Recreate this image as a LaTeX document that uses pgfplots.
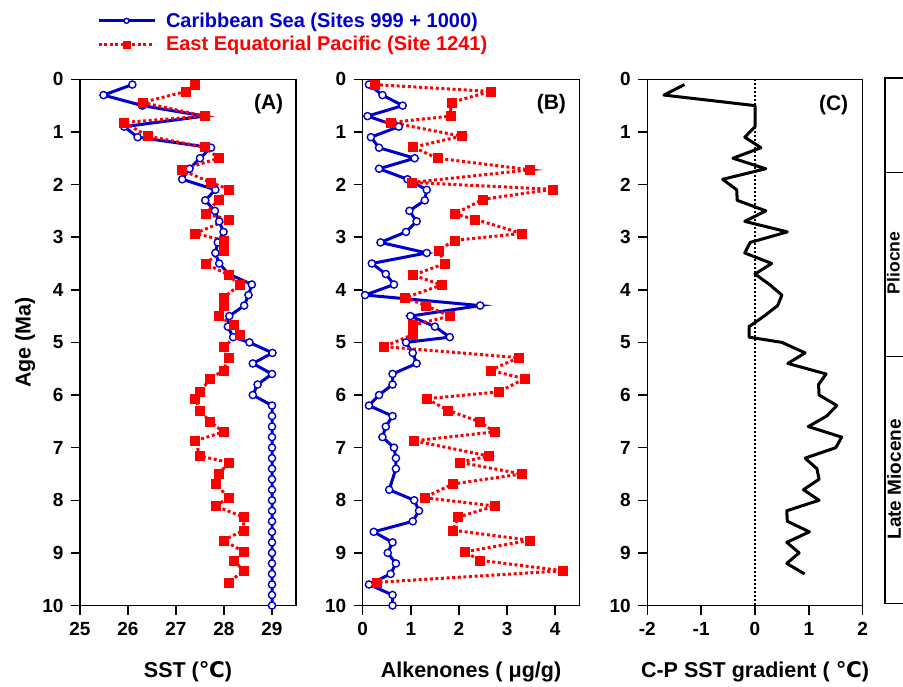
\documentclass[border=0pt]{standalone}
\usepackage{fontspec}
\setmainfont{Liberation Sans}
\newfontfamily\dejavu{DejaVu Sans}
\usepackage{pgfplots}
\usepackage{pgfplotstable}
\pgfplotsset{compat=1.18}

\definecolor{cblue}{RGB}{0,0,204}
\definecolor{cred}{RGB}{255,0,0}

% Caribbean Sea (Sites 999 + 1000): age, SST, alkenones
\pgfplotstableread{
age sst alk
0.1 26.09 0.13
0.3 25.49 0.41
0.5 26.30 0.83
0.7 27.59 0.10
0.9 25.92 0.75
1.1 26.20 0.17
1.3 27.73 0.34
1.5 27.50 1.08
1.7 27.28 0.34
1.9 27.13 0.93
2.1 27.82 1.33
2.3 27.61 1.29
2.5 27.81 0.97
2.7 27.90 1.12
2.9 27.99 0.90
3.1 27.87 0.37
3.3 27.82 1.33
3.5 27.90 0.19
3.7 28.10 0.48
3.9 28.58 0.65
4.1 28.51 0.05
4.3 28.42 2.44
4.5 28.11 0.99
4.7 28.08 1.50
4.9 28.19 1.81
5.0 28.53 0.90
5.2 29.01 1.04
5.4 28.60 1.12
5.6 29.00 0.62
5.8 28.70 0.62
6.0 28.60 0.34
6.2 29.00 0.13
6.4 29.00 0.62
6.6 29.00 0.48
6.8 29.00 0.41
7.0 29.00 0.65
7.2 29.00 0.69
7.4 29.00 0.69
7.6 29.00 nan
7.8 29.00 0.55
8.0 29.00 1.07
8.2 29.00 1.17
8.4 29.00 1.04
8.6 29.00 0.23
8.8 29.00 0.62
9.0 29.00 0.52
9.2 29.00 0.69
9.4 29.00 0.58
9.6 29.00 0.13
9.8 29.00 0.62
10.0 29.00 0.62
}\carib

% East Equatorial Pacific (Site 1241)
\pgfplotstableread{
age sst alk
0.10 27.40 0.24
0.23 27.21 2.65
0.44 26.30 1.84
0.70 27.60 1.82
0.82 25.92 0.58
1.08 26.41 2.05
1.29 27.60 1.05
1.50 27.89 1.55
1.72 27.11 3.48
1.96 27.72 1.02
2.09 28.10 3.95
2.28 27.89 2.50
2.56 27.61 1.91
2.66 28.10 2.33
2.93 27.40 3.31
3.06 27.99 1.91
3.25 27.99 1.57
3.50 27.61 1.71
3.72 28.10 1.05
3.91 28.32 1.64
4.15 27.99 0.88
4.30 27.99 1.31
4.50 27.89 1.81
4.67 28.20 1.05
4.85 28.32 1.05
5.08 27.99 0.44
5.29 28.10 3.24
5.53 27.99 2.65
5.69 27.71 3.36
5.94 27.50 2.83
6.07 27.40 1.33
6.29 27.50 1.77
6.51 27.71 2.43
6.70 27.99 2.74
6.87 27.40 1.07
7.16 27.50 2.62
7.28 28.10 2.02
7.50 27.89 3.30
7.69 27.82 1.88
7.95 28.10 1.28
8.11 27.82 2.74
8.32 28.41 1.98
8.57 28.41 1.88
8.76 27.99 3.48
8.98 28.41 2.12
9.14 28.20 2.43
9.34 28.41 4.16
9.56 28.10 0.29
}\pacif

% C-P SST gradient
\pgfplotstableread{
age grad
0.1 -1.31
0.3 -1.69
0.5 0.00
0.7 0.00
0.9 0.00
1.1 -0.19
1.3 0.11
1.5 -0.41
1.7 0.20
1.9 -0.60
2.1 -0.34
2.3 -0.33
2.5 0.20
2.7 -0.19
2.9 0.60
3.1 -0.09
3.3 -0.19
3.5 0.31
3.7 0.00
3.9 0.27
4.1 0.50
4.3 0.42
4.5 0.17
4.7 -0.11
4.9 -0.11
5.0 0.50
5.2 0.93
5.4 0.61
5.6 1.32
5.8 1.18
6.0 1.19
6.2 1.52
6.4 1.33
6.6 0.99
6.8 1.61
7.0 1.50
7.2 0.93
7.4 1.15
7.6 1.19
7.8 0.90
8.0 1.19
8.2 0.59
8.4 0.60
8.6 1.01
8.8 0.59
9.0 0.82
9.2 0.59
9.4 0.92
}\grad

\pgfplotsset{
  panel/.style={
    scale only axis, height=526.2pt,
    ymin=0, ymax=10, y dir=reverse, ytick={0,1,...,10},
    axis line style={line width=1.5pt},
    every tick/.style={line width=1.5pt, black},
    tick align=outside, major tick length=9pt, tick pos=left,
    ticklabel style={font=\bfseries\fontsize{19}{19}\selectfont},
    yticklabel style={xshift=-4pt},
    xticklabel style={yshift=-4pt},
    /pgf/number format/assume math mode=true,
    label style={font=\bfseries\fontsize{21.5}{22}\selectfont},
    xlabel style={at={(axis description cs:0.5,0)}, anchor=center, yshift=-66pt},
  },
  carib/.style={color=cblue, line width=3pt, mark=*, mark size=3.6pt,
    mark options={fill=white, draw=cblue, line width=1.4pt, solid}},
  pacif/.style={color=cred, line width=3pt, dash pattern=on 3pt off 2.6pt,
    mark=square*, mark size=4.5pt, mark options={fill=cred, draw=cred, line width=0.5pt, solid}},
  legcarib/.style={legend image code/.code={\draw[mark repeat=2, mark phase=2, ##1, mark size=2.5pt]
      plot coordinates {(0pt,0pt) (28pt,0pt) (56pt,0pt)};}},
  legpacif/.style={legend image code/.code={\draw[mark repeat=2, mark phase=2, ##1, mark size=3.6pt]
      plot coordinates {(0pt,0pt) (28pt,0pt) (56pt,0pt)};}},
}

\begin{document}
\begin{tikzpicture}

% (A) SST
\begin{axis}[panel, at={(80pt,80.5pt)}, anchor=south west, width=216pt,
    xmin=25, xmax=29.5, xtick={25,...,29},
    xlabel={SST ({\dejavu ℃})},
    ylabel={Age (Ma)},
    ylabel style={at={(axis description cs:-0.2546,0.5)}, anchor=center},
    legend cell align=left,
    legend style={draw=none, fill=none, inner sep=0pt, outer sep=0pt,
      at={(axis description cs:0.0787,1.1268)}, anchor=north west,
      nodes={inner sep=0pt, text depth=0.21em},
      row sep=7pt, column sep=10pt,
      font=\bfseries\fontsize{20}{20}\selectfont},
  ]
  \addplot[carib, legcarib] table[x=sst, y=age] {\carib};
  \addlegendentry{\textcolor{cblue}{Caribbean Sea (Sites 999 + 1000)}}
  \addplot[pacif, legpacif] table[x=sst, y=age] {\pacif};
  \addlegendentry{\textcolor{cred}{East Equatorial Pacific (Site 1241)}}
  \node[font=\bfseries\fontsize{21}{21}\selectfont] at (axis cs:28.93,0.47) {(A)};
\end{axis}

% (B) Alkenones
\begin{axis}[panel, at={(362.7pt,80.5pt)}, anchor=south west, width=216.6pt,
    xmin=0, xmax=4.5, xtick={0,...,4},
    xlabel={Alkenones ( μg/g)},
  ]
  \addplot[carib] table[x=alk, y=age] {\carib};
  \addplot[pacif] table[x=alk, y=age] {\pacif};
  \node[font=\bfseries\fontsize{21}{21}\selectfont] at (axis cs:3.92,0.47) {(B)};
\end{axis}

% (C) Caribbean minus Pacific
\begin{axis}[panel, at={(647.3pt,80.5pt)}, anchor=south west, width=215.4pt,
    xmin=-2, xmax=2, xtick={-2,...,2},
    xlabel={C-P SST gradient ( {\dejavu ℃})},
  ]
  \addplot[black, line width=1.4pt, dash pattern=on 1.4pt off 2.6pt] coordinates {(0,0) (0,10)};
  \addplot[black, line width=3pt, line join=round] table[x=grad, y=age] {\grad};
  \node[font=\bfseries\fontsize{21}{21}\selectfont] at (axis cs:1.46,0.49) {(C)};
\end{axis}

% epoch column (cut by the right edge)
\begin{axis}[scale only axis, at={(885pt,82.7pt)}, anchor=south west,
    width=60pt, height=525.3pt, xmin=0, xmax=1, ymin=0, ymax=10, y dir=reverse,
    ticks=none, axis line style={line width=1.3pt}, clip=false]
  \addplot[black, line width=1.3pt] coordinates {(0,1.8) (1,1.8)};
  \addplot[black, line width=1.3pt] coordinates {(0,5.3) (1,5.3)};
  \node[rotate=90, anchor=north, inner sep=0pt, font=\bfseries\fontsize{17.5}{17.5}\selectfont]
    at (axis cs:0.03,3.52) {Pliocne};
  \node[rotate=90, anchor=north, inner sep=0pt, font=\bfseries\fontsize{19}{19}\selectfont]
    at (axis cs:0.03,7.64) {Late Miocene};
\end{axis}

\pgfresetboundingbox
\useasboundingbox (0,0) rectangle (903pt,686pt);
\end{tikzpicture}
\end{document}
